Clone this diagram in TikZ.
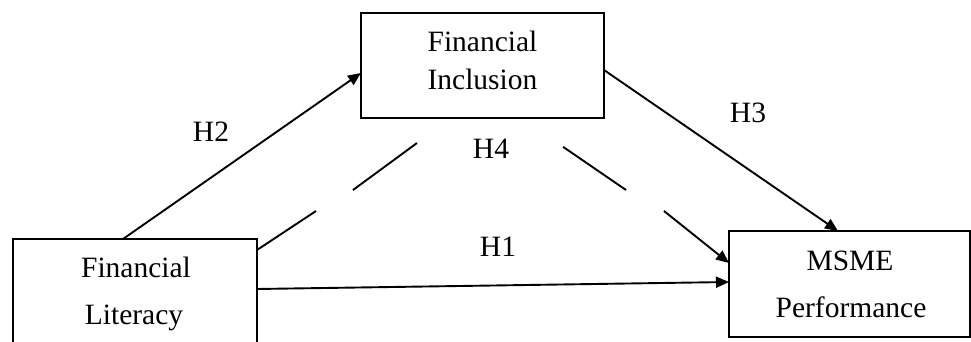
\documentclass[tikz,border=0pt]{standalone}
\usepackage{fontspec}
\setmainfont{Liberation Serif}
\usetikzlibrary{arrows.meta}
\begin{document}
\begin{tikzpicture}[x=1pt,y=-1pt,
  box/.style={draw, line width=2pt, inner sep=0pt, outer sep=0pt},
  txt/.style={inner sep=0pt, anchor=base, font=\fontsize{29.5}{35}\selectfont},
  arr/.style={line width=1.9pt, -{Triangle[length=13pt,width=11pt]}},
  dln/.style={line width=1.9pt}]
\useasboundingbox (0,0) rectangle (971,342);
\clip (0,0) rectangle (971,342);
% boxes
\node[box, minimum width=243pt, minimum height=105pt] (fi) at (482.5,65.5) {};
\node[box, minimum width=244pt, minimum height=110pt] (fl) at (135,294) {};
\node[box, minimum width=241pt, minimum height=106pt] (ms) at (849.5,284) {};
% box texts
\node[txt] (fia) at (482.5,52) {Financial};
\node[txt] (fib) at (482.5,90) {Inclusion};
\node[txt] (fla) at (136,277) {Financial};
\node[txt] (flb) at (134,324) {Literacy};
\node[txt] (msa) at (850,270) {MSME};
\node[txt] (msb) at (851,317) {Performance};
% labels
\node[txt] (h2) at (211,142) {H2};
\node[txt] (h3) at (748,123) {H3};
\node[txt] (h4) at (491,158) {H4};
\node[txt] (h1) at (498,256) {H1};
% dashed path coordinates
\coordinate (a1) at (316,211);
\coordinate (a2) at (353,190);
\coordinate (a3) at (417,143);
\coordinate (b1) at (626,190);
\coordinate (b2) at (664,211);
% connectors
\draw[arr] ([xshift=110pt]fl.north west) -- ([yshift=-60pt]fi.north west);
\draw[arr] ([yshift=-57pt]fi.north east) -- ([xshift=109pt]ms.north west);
\draw[arr] ([yshift=-50pt]fl.north east) -- ([yshift=-51pt]ms.north west);
\draw[dln, dash pattern=on 70.7pt off 42.5pt on 79.4pt off 100pt]
  ([yshift=-11pt]fl.north east) -- (a1) -- (a2) -- (a3) -- ([xshift=93pt]fi.south west);
\draw[arr, dash pattern=on 0pt off 51pt on 76.3pt off 43.4pt on 200pt]
  ([xshift=160pt]fi.south west) -- (b1) -- (b2) -- ([yshift=-32pt]ms.north west);
\end{tikzpicture}
\end{document}
